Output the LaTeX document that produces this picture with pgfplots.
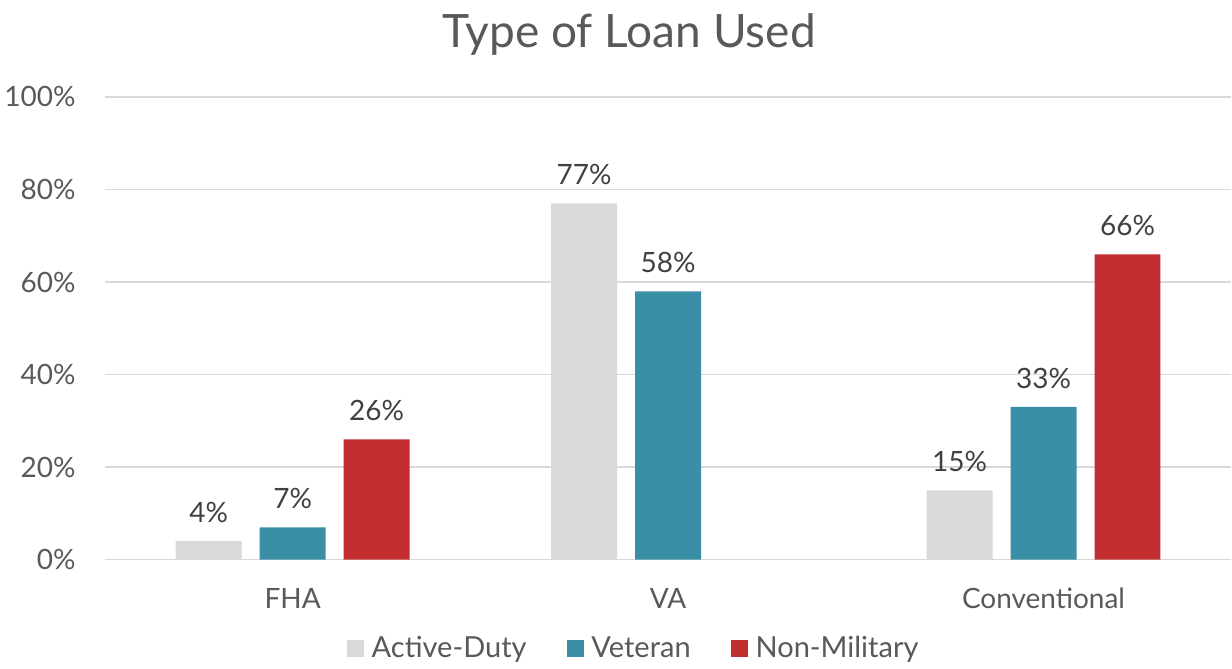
\documentclass[border=0pt]{standalone}
\usepackage{fontspec}
\setmainfont{Lato}
\usepackage{pgfplots}
\pgfplotsset{compat=1.18}

\definecolor{active}{HTML}{D9D9D9}
\definecolor{veteran}{HTML}{3A8FA6}
\definecolor{nonmil}{HTML}{C22D2F}
\definecolor{gridc}{HTML}{D9D9D9}
\definecolor{txt}{HTML}{595959}
\definecolor{lbl}{HTML}{404040}

\begin{document}
\begin{tikzpicture}
\begin{axis}[
    scale only axis,
    width=563.5pt, height=231.5pt,
    xmin=-0.5, xmax=2.5,
    ymin=0, ymax=100,
    xtick={0,1,2},
    xticklabels={FHA,VA,Conventional},
    ytick={0,20,40,60,80,100},
    yticklabel={\pgfmathprintnumber{\tick}\%},
    /pgf/number format/assume math mode=true,
    major tick length=0pt,
    axis x line*=bottom,
    axis y line*=left,
    x axis line style={gridc, line width=0.75pt},
    y axis line style={draw=none},
    ymajorgrids,
    grid style={gridc, line width=0.75pt},
    ticklabel style={font=\fontsize{14}{16}\selectfont, text=txt},
    yticklabel style={anchor=east, inner sep=0pt, xshift=-14.5pt},
    xticklabel style={anchor=north, inner sep=0pt, yshift=-14pt},
    title={Type of Loan Used},
    title style={font=\fontsize{23}{26}\selectfont, text=txt, anchor=base,
        at={(0.5,1)}, yshift=18.5pt, xshift=-19.5pt},
    ybar, bar width=33pt,
    nodes near coords={\pgfmathprintnumber{\pgfplotspointmeta}\%},
    nodes near coords style={font=\fontsize{14}{16}\selectfont, text=lbl,
        anchor=south, inner sep=0pt, yshift=9pt},
    legend columns=3,
    legend style={at={(0.472,-0.192)}, anchor=center, draw=none,
        font=\fontsize{14.5}{16}\selectfont, text=txt,
        nodes={inner xsep=4pt},
        /tikz/every even column/.append style={column sep=16pt}},
    legend image code/.code={\fill[#1] (0pt,-4.25pt) rectangle (8.5pt,4.25pt);},
]
\addplot[fill=active, draw=none, bar shift=-42pt] coordinates {(0,4) (1,77) (2,15)};
\addlegendentry{Active-Duty}
\addplot[fill=veteran, draw=none, bar shift=0pt] coordinates {(0,7) (1,58) (2,33)};
\addlegendentry{Veteran}
\addplot[fill=nonmil, draw=none, bar shift=42pt] coordinates {(0,26) (2,66)};
\addlegendentry{Non-Military}
\end{axis}
\path[use as bounding box] (current axis.south west) ++(-52.5pt,-52pt) rectangle ++(616pt,332pt);
\end{tikzpicture}
\end{document}
